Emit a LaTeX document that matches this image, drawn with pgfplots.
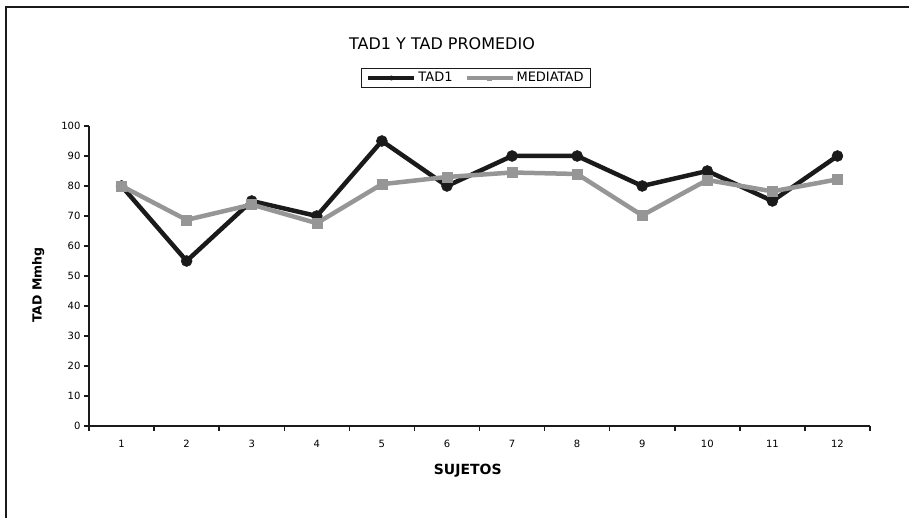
\documentclass[border=0pt]{standalone}
\usepackage{pgfplots}
\pgfplotsset{compat=1.18}
\usepackage{fontspec}
\setmainfont{DejaVu Sans}
\definecolor{dk}{HTML}{1A1A1A}
\definecolor{gr}{HTML}{969696}
\begin{document}
\begin{tikzpicture}[x=1pt,y=1pt]
\useasboundingbox (0,0) rectangle (909,518);
\draw[line width=2.2pt,color=dk] (6,0) -- (6,511) -- (909,511);
\node[font=\fontsize{16}{18}\selectfont] at (442,474) {TAD1 Y TAD PROMEDIO};
\begin{axis}[
  at={(89pt,92pt)}, anchor=south west,
  scale only axis, width=781pt, height=300pt,
  xmin=0.5, xmax=12.5, ymin=0, ymax=100,
  axis lines=left, axis line style={-, line width=1.3pt, color=dk},
  xtick={0.5,1.5,...,12.5}, xticklabels={},
  extra x ticks={1,...,12},
  extra x tick labels={1,2,3,4,5,6,7,8,9,10,11,12},
  extra x tick style={major tick length=0pt, xticklabel style={yshift=-11pt}},
  ytick={0,10,...,100}, major tick length=5pt,
  major tick style={line width=1.5pt, color=dk},
  tick align=outside,
  /pgf/number format/assume math mode=true,
  tick label style={font=\fontsize{10}{11}\selectfont},
  xlabel={\bfseries SUJETOS}, ylabel={\bfseries TAD Mmhg},
  xlabel style={font=\fontsize{14}{16}\selectfont, at={(axis description cs:0.485,-0.15)}, anchor=center},
  ylabel style={font=\fontsize{12.5}{14}\selectfont, at={(axis description cs:-0.065,0.47)}, anchor=center, rotate=0},
  legend style={at={(0.4955,1.16)}, anchor=center, legend columns=2,
    draw=dk, line width=1.5pt, font=\fontsize{13}{15}\selectfont,
    inner xsep=5pt, inner ysep=2pt, /tikz/every even column/.append style={column sep=10pt}},
  legend image code/.code={\draw[#1,line width=4pt,mark repeat=2,mark phase=2,mark size=2.2pt] plot coordinates {(0pt,0pt) (23pt,0pt) (46pt,0pt)};},
]
\addplot[color=dk, line width=4.5pt, mark=*, mark size=5.5pt, mark options={line width=0.5pt}] coordinates {
(1,80) (2,55) (3,75) (4,70) (5,95) (6,80) (7,90) (8,90) (9,80) (10,85) (11,75) (12,90)};
\addlegendentry{TAD1}
\addplot[color=gr, line width=4.5pt, mark=square*, mark size=5pt, mark options={line width=0.5pt}] coordinates {
(1,80) (2,68.7) (3,73.8) (4,67.6) (5,80.6) (6,83) (7,84.5) (8,84) (9,70.2) (10,82) (11,78.2) (12,82.2)};
\addlegendentry{MEDIATAD}
\end{axis}
\end{tikzpicture}
\end{document}
